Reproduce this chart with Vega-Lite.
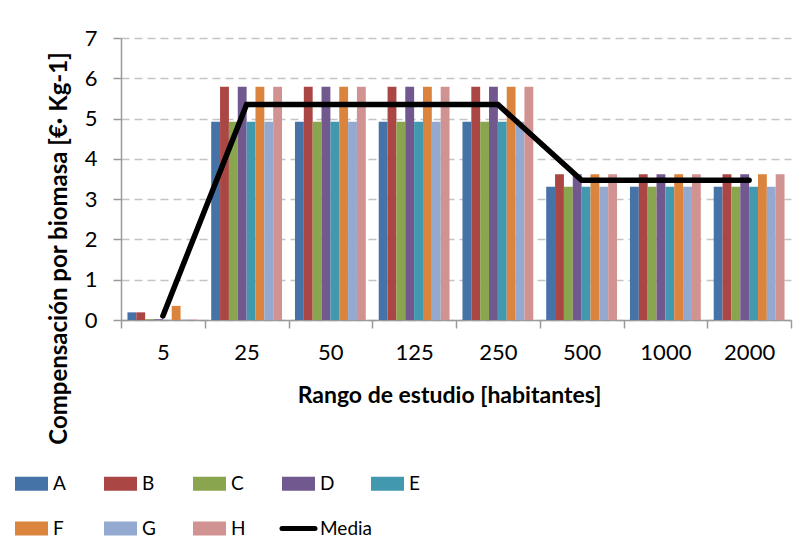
{
  "$schema": "https://vega.github.io/schema/vega-lite/v6.json",
  "width": 670,
  "height": 282,
  "autosize": {"type": "none"},
  "padding": {"left": 121, "top": 38, "right": 16, "bottom": 226},
  "background": "white",
  "config": {
    "font": "Lato",
    "view": {"stroke": null},
    "axis": {"labelColor": "#000000", "titleColor": "#000000", "domainColor": "#9a9a9a", "tickColor": "#9a9a9a", "domainWidth": 1.5, "tickWidth": 1.5}
  },
  "datasets": {
    "bars": [
      {"rango": "5", "serie": "A", "valor": 0.19},
      {"rango": "5", "serie": "B", "valor": 0.19},
      {"rango": "5", "serie": "C", "valor": 0.02},
      {"rango": "5", "serie": "D", "valor": 0.02},
      {"rango": "5", "serie": "E", "valor": 0.005},
      {"rango": "5", "serie": "F", "valor": 0.35},
      {"rango": "5", "serie": "G", "valor": 0.01},
      {"rango": "5", "serie": "H", "valor": 0.01},
      {"rango": "25", "serie": "A", "valor": 4.92},
      {"rango": "25", "serie": "B", "valor": 5.79},
      {"rango": "25", "serie": "C", "valor": 4.92},
      {"rango": "25", "serie": "D", "valor": 5.79},
      {"rango": "25", "serie": "E", "valor": 4.92},
      {"rango": "25", "serie": "F", "valor": 5.79},
      {"rango": "25", "serie": "G", "valor": 4.92},
      {"rango": "25", "serie": "H", "valor": 5.79},
      {"rango": "50", "serie": "A", "valor": 4.92},
      {"rango": "50", "serie": "B", "valor": 5.79},
      {"rango": "50", "serie": "C", "valor": 4.92},
      {"rango": "50", "serie": "D", "valor": 5.79},
      {"rango": "50", "serie": "E", "valor": 4.92},
      {"rango": "50", "serie": "F", "valor": 5.79},
      {"rango": "50", "serie": "G", "valor": 4.92},
      {"rango": "50", "serie": "H", "valor": 5.79},
      {"rango": "125", "serie": "A", "valor": 4.92},
      {"rango": "125", "serie": "B", "valor": 5.79},
      {"rango": "125", "serie": "C", "valor": 4.92},
      {"rango": "125", "serie": "D", "valor": 5.79},
      {"rango": "125", "serie": "E", "valor": 4.92},
      {"rango": "125", "serie": "F", "valor": 5.79},
      {"rango": "125", "serie": "G", "valor": 4.92},
      {"rango": "125", "serie": "H", "valor": 5.79},
      {"rango": "250", "serie": "A", "valor": 4.92},
      {"rango": "250", "serie": "B", "valor": 5.79},
      {"rango": "250", "serie": "C", "valor": 4.92},
      {"rango": "250", "serie": "D", "valor": 5.79},
      {"rango": "250", "serie": "E", "valor": 4.92},
      {"rango": "250", "serie": "F", "valor": 5.79},
      {"rango": "250", "serie": "G", "valor": 4.92},
      {"rango": "250", "serie": "H", "valor": 5.79},
      {"rango": "500", "serie": "A", "valor": 3.31},
      {"rango": "500", "serie": "B", "valor": 3.62},
      {"rango": "500", "serie": "C", "valor": 3.31},
      {"rango": "500", "serie": "D", "valor": 3.62},
      {"rango": "500", "serie": "E", "valor": 3.31},
      {"rango": "500", "serie": "F", "valor": 3.62},
      {"rango": "500", "serie": "G", "valor": 3.31},
      {"rango": "500", "serie": "H", "valor": 3.62},
      {"rango": "1000", "serie": "A", "valor": 3.31},
      {"rango": "1000", "serie": "B", "valor": 3.62},
      {"rango": "1000", "serie": "C", "valor": 3.31},
      {"rango": "1000", "serie": "D", "valor": 3.62},
      {"rango": "1000", "serie": "E", "valor": 3.31},
      {"rango": "1000", "serie": "F", "valor": 3.62},
      {"rango": "1000", "serie": "G", "valor": 3.31},
      {"rango": "1000", "serie": "H", "valor": 3.62},
      {"rango": "2000", "serie": "A", "valor": 3.31},
      {"rango": "2000", "serie": "B", "valor": 3.62},
      {"rango": "2000", "serie": "C", "valor": 3.31},
      {"rango": "2000", "serie": "D", "valor": 3.62},
      {"rango": "2000", "serie": "E", "valor": 3.31},
      {"rango": "2000", "serie": "F", "valor": 3.62},
      {"rango": "2000", "serie": "G", "valor": 3.31},
      {"rango": "2000", "serie": "H", "valor": 3.62}
    ],
    "media": [
      {"rango": "5", "valor": 0.1},
      {"rango": "25", "valor": 5.35},
      {"rango": "50", "valor": 5.35},
      {"rango": "125", "valor": 5.35},
      {"rango": "250", "valor": 5.35},
      {"rango": "500", "valor": 3.47},
      {"rango": "1000", "valor": 3.47},
      {"rango": "2000", "valor": 3.47}
    ]
  },
  "encoding": {
    "x": {
      "field": "rango",
      "type": "nominal",
      "sort": ["5", "25", "50", "125", "250", "500", "1000", "2000"],
      "scale": {"paddingInner": 0, "paddingOuter": 0},
      "axis": {
        "title": "Rango de estudio [habitantes]",
        "titleFontSize": 23,
        "titleFontWeight": "bold",
        "titleX": 328,
        "titleY": 75,
        "titleBaseline": "middle",
        "labelAngle": 0,
        "labelFontSize": 22,
        "labelPadding": 14,
        "tickBand": "extent",
        "tickSize": 8,
        "grid": false
      }
    },
    "y": {
      "field": "valor",
      "type": "quantitative",
      "scale": {"domain": [0, 7], "nice": false},
      "axis": {
        "title": "Compensación por biomasa [€· Kg-1]",
        "titleFontSize": 24,
        "titleFontWeight": "bold",
        "titleX": -62,
        "titleY": 210,
        "titleAngle": -90,
        "titleAlign": "center",
        "titleBaseline": "middle",
        "values": [0, 1, 2, 3, 4, 5, 6, 7],
        "labelFontSize": 22,
        "labelPadding": 16,
        "tickSize": 8,
        "grid": true,
        "gridColor": "#c4c4c4",
        "gridWidth": 1.5,
        "gridDash": [8, 5]
      }
    }
  },
  "layer": [
    {
      "data": {"name": "bars"},
      "mark": {"type": "bar"},
      "encoding": {
        "xOffset": {
          "field": "serie",
          "type": "nominal",
          "scale": {"paddingInner": 0, "paddingOuter": 0.73}
        },
        "color": {
          "field": "serie",
          "type": "nominal",
          "scale": {
            "domain": ["A", "B", "C", "D", "E", "F", "G", "H", "Media"],
            "range": ["#4572A7", "#AA4643", "#89A54E", "#71588F", "#4198AF", "#DB843D", "#93A9CF", "#D19392", "#000000"]
          },
          "legend": {
            "title": null,
            "orient": "none",
            "legendX": -99,
            "legendY": 436,
            "direction": "horizontal",
            "columns": 5,
            "gridAlign": "all",
            "padding": 0,
            "columnPadding": -12,
            "rowPadding": 24,
            "symbolSize": 1089,
            "symbolType": "M-1,-0.42H1V0.42H-1Z",
            "labelFontSize": 19,
            "labelColor": "#000000",
            "labelOffset": 12,
            "encode": {
              "symbols": {
                "update": {
                  "shape": {"signal": "datum.value === 'Media' ? 'M-1,0H1' : 'M-1,-0.42H1V0.42H-1Z'"},
                  "stroke": {"value": "#000000"},
                  "strokeWidth": {"signal": "datum.value === 'Media' ? 5 : 0"},
                  "strokeCap": {"value": "round"},
                  "opacity": {"value": 1}
                }
              }
            }
          }
        }
      }
    },
    {
      "data": {"name": "media"},
      "mark": {"type": "line", "strokeWidth": 5.5, "strokeCap": "round", "strokeJoin": "miter"},
      "encoding": {
        "color": {"datum": "Media", "type": "nominal"}
      }
    }
  ]
}
